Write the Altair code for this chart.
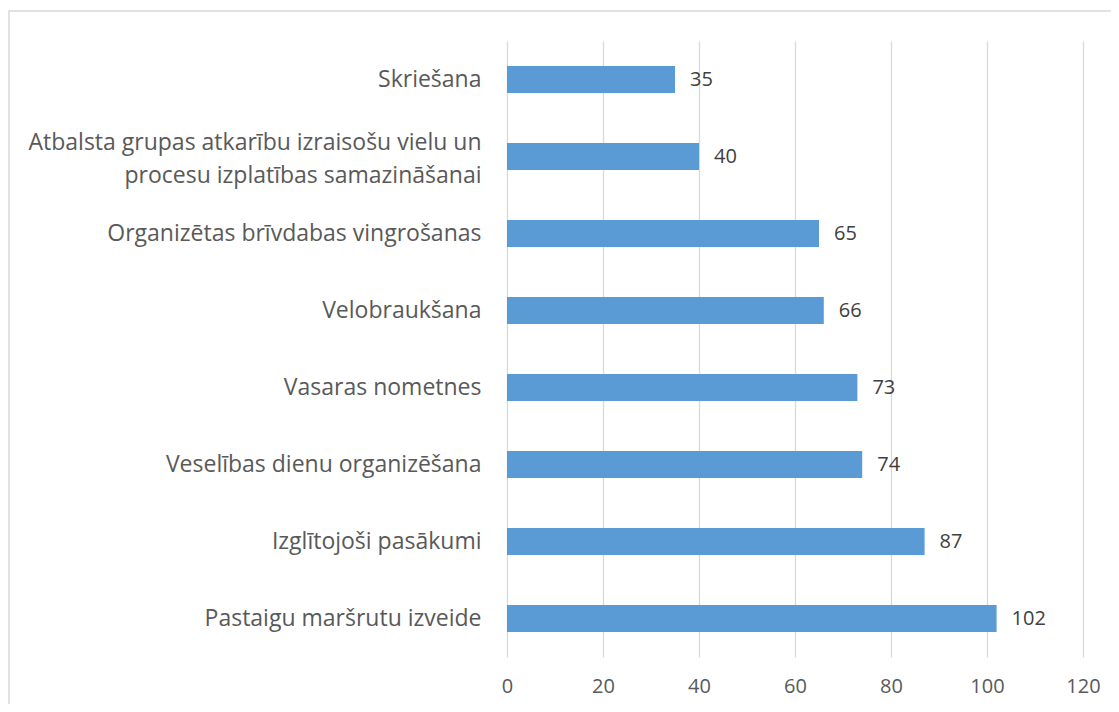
import altair as alt
import pandas as pd

categories = [
    "Skriešana",
    "Atbalsta grupas atkarību izraisošu vielu un|procesu izplatības samazināšanai",
    "Organizētas brīvdabas vingrošanas",
    "Velobraukšana",
    "Vasaras nometnes",
    "Veselības dienu organizēšana",
    "Izglītojoši pasākumi",
    "Pastaigu maršrutu izveide",
]
values = [35, 40, 65, 66, 73, 74, 87, 102]
x_ticks = [0, 20, 40, 60, 80, 100, 120]

df = pd.DataFrame({"category": categories, "value": values})

FONT = "Open Sans"
CAT_FS = 23
NUM_FS = 20
LABEL_COLOR = "#595959"

base = alt.Chart(df)

bars = base.mark_bar(color="#5b9bd5", size=27).encode(
    x=alt.X(
        "value:Q",
        scale=alt.Scale(domain=[0, 120], nice=False),
        axis=alt.Axis(
            values=x_ticks,
            title=None,
            ticks=False,
            domain=False,
            grid=True,
            gridColor="#d9d9d9",
            gridWidth=1.3,
            labelFont=FONT,
            labelFontSize=NUM_FS,
            labelColor=LABEL_COLOR,
            labelPadding=19,
            labelFlush=False,
        ),
    ),
    y=alt.Y(
        "category:N",
        sort=categories,
        scale=alt.Scale(paddingInner=0.65, paddingOuter=0.325),
        axis=alt.Axis(
            title=None,
            ticks=False,
            domain=False,
            grid=False,
            labelFont=FONT,
            labelFontSize=CAT_FS,
            labelColor=LABEL_COLOR,
            labelPadding=26,
            labelLimit=600,
            labelLineHeight=33,
            labelExpr="split(datum.label, '|')",
            labelOffset={
                "condition": {"test": "indexof(datum.value, '|') >= 0", "value": -14},
                "value": 0,
            },
        ),
    ),
)

texts = base.mark_text(
    align="left", baseline="middle", dx=15, font=FONT, fontSize=NUM_FS, color="#404040"
).encode(
    x="value:Q",
    y=alt.Y("category:N", sort=categories),
    text="value:Q",
)

border = alt.Chart(alt.Data(values=[{}])).mark_rect(
    fill="transparent", stroke="#d9d9d9", strokeWidth=1.5
).encode(
    x=alt.value(-498),
    x2=alt.value(2000),
    y=alt.value(-30),
    y2=alt.value(2000),
)

chart = (
    alt.layer(border, bars, texts)
    .properties(
        width=576,
        height=616,
        autosize=alt.AutoSizeParams(type="none"),
        padding={"left": 499, "top": 33, "right": 28, "bottom": 47},
        background="white",
    )
    .configure_view(stroke=None)
)

chart.save("out.html", embed_options={"renderer": "svg", "actions": False})
